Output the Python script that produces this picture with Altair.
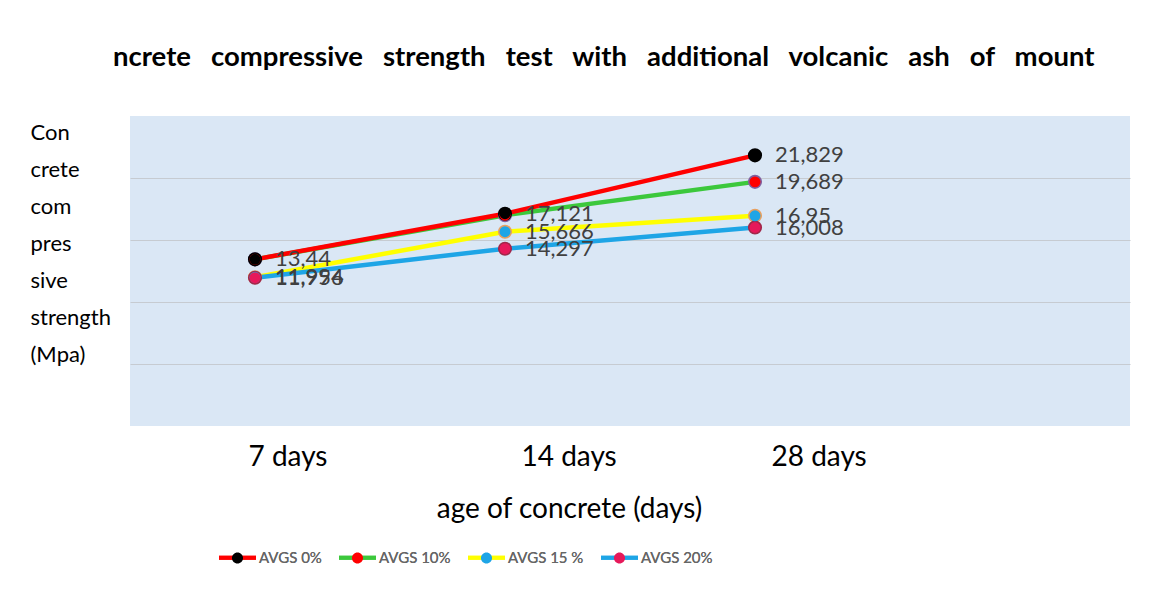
import altair as alt
import pandas as pd

# ---- data ----
categories = ["7 days", "14 days", "28 days"]
series = ["AVGS 0%", "AVGS 10%", "AVGS 15 %", "AVGS 20%"]
values_0 = [13.44, 17.121, 21.829]
values_10 = [13.44, 17.0, 19.689]
values_15 = [11.994, 15.666, 16.95]
values_20 = [11.956, 14.297, 16.008]
show_0 = [True, True, True]
show_10 = [False, False, True]
show_15 = [True, True, True]
show_20 = [True, True, True]

line_colors = ["#ff0000", "#3cc83c", "#ffff00", "#1ea5e6"]
marker_fill = ["#000000", "#ff0000", "#1ea5e6", "#e6195a"]
marker_edge = ["#000000", "#8060a0", "#e8a060", "#a0284a"]

title_words = ["ncrete", "compressive", "strength", "test", "with", "additional",
               "volcanic", "ash", "of", "mount"]
y_title_lines = ["Con", "crete", "com", "pres", "sive", "strength", "(Mpa)"]
x_title = "age of concrete (days)"

# drawing order: 10 %, 15 %, 20 %, then 0 % on top
draw_order = [1, 2, 3, 0]
all_vals = [values_0, values_10, values_15, values_20]
all_show = [show_0, show_10, show_15, show_20]
rows = []
for i in draw_order:
    s = series[i]
    for c, v, sh in zip(categories, all_vals[i], all_show[i]):
        rows.append({"series": s, "s2": s, "s3": s, "age": c, "value": v,
                     "label": str(v).replace(".", ",") if sh else ""})
df = pd.DataFrame(rows)

x_domain = categories + [""]
font = "Lato"

x_enc = alt.X("age:N", scale=alt.Scale(domain=x_domain), sort=x_domain,
              axis=alt.Axis(labelFontSize=28, labelColor="black", labelFont=font,
                            ticks=False, domain=False, grid=False, labelPadding=17,
                            labelAngle=0, labelAlign="left",
                            labelOffset=alt.condition("datum.value == '7 days'",
                                                      alt.value(-7), alt.value(16)),
                            title=x_title, titleFontSize=28,
                            titleFont=font, titleFontWeight="normal",
                            titleColor="black", titleX=439, titleY=83,
                            titleBaseline="middle", titleAlign="center"))
y_enc = alt.Y("value:Q", scale=alt.Scale(domain=[0, 25], nice=False, zero=True),
              axis=alt.Axis(values=[5, 10, 15, 20], labels=False, ticks=False,
                            domain=False, grid=True, gridColor="#c6cbd1",
                            gridWidth=1, title=y_title_lines, titleAngle=0,
                            titleAlign="left", titleBaseline="top", titleX=-100,
                            titleY=6, titleFontSize=22, titleFont=font,
                            titleFontWeight="normal", titleColor="black",
                            titleLineHeight=37))

legend_common = dict(orient="none", legendX=87, legendY=421, direction="horizontal",
                     columns=4, title=None, symbolSize=1369, symbolStrokeWidth=4,
                     labelFontSize=15, labelFont=font,
                     labelOffset=1, columnPadding=9, padding=0)

color_enc = alt.Color("series:N",
                      scale=alt.Scale(domain=series, range=line_colors),
                      legend=alt.Legend(symbolType="stroke", labelColor="#666666",
                                        **legend_common))

base = alt.Chart(df)

green_line = base.transform_filter(alt.datum.series == "AVGS 10%").mark_line(
    strokeWidth=4.5).encode(x=x_enc, y=y_enc, color=color_enc)
other_lines = base.transform_filter(alt.datum.series != "AVGS 10%").mark_line(
    strokeWidth=4.5).encode(x=x_enc, y=y_enc, color=color_enc)

# marker outline (larger disc) and marker fill (smaller disc on top)
outline = base.mark_point(filled=True, size=200, opacity=1).encode(
    x=x_enc, y=y_enc,
    fill=alt.Fill("s3:N", scale=alt.Scale(domain=series, range=marker_edge),
                  legend=None),
)

dot_path = ("M-1,0 L1,0 M-0.3,0 A0.3,0.3 0 1,0 0.3,0 "
            "A0.3,0.3 0 1,0 -0.3,0 Z")
points = base.mark_point(filled=True, size=120, opacity=1).encode(
    x=x_enc, y=y_enc,
    fill=alt.Fill("s2:N", scale=alt.Scale(domain=series, range=marker_fill),
                  legend=alt.Legend(symbolType=dot_path, labelColor="transparent",
                                    symbolStrokeColor="transparent",
                                    **legend_common)),
)

labels = base.transform_filter(alt.datum.label != "").mark_text(
    align="left", baseline="middle", dx=20, fontSize=22, font=font,
    color="#404040").encode(x=x_enc, y=y_enc, text="label:N")

title_text = "\u00a0\u00a0\u00a0".join(title_words)

chart = alt.layer(green_line, other_lines, outline, points, labels).resolve_scale(
    color="independent", fill="independent"
).properties(
    width=1000, height=310,
    title=alt.TitleParams(title_text, anchor="start", frame="group", dx=-17,
                          offset=23, fontSize=27.5, font=font, fontWeight="bold",
                          color="black", baseline="alphabetic"),
    autosize=alt.AutoSizeParams(type="none"),
    padding={"left": 122, "top": 108, "right": 17, "bottom": 150},
    background="white",
).configure_view(fill="#dae7f5", strokeWidth=0)

chart.save("out.html", embed_options={"renderer": "svg", "actions": False})
